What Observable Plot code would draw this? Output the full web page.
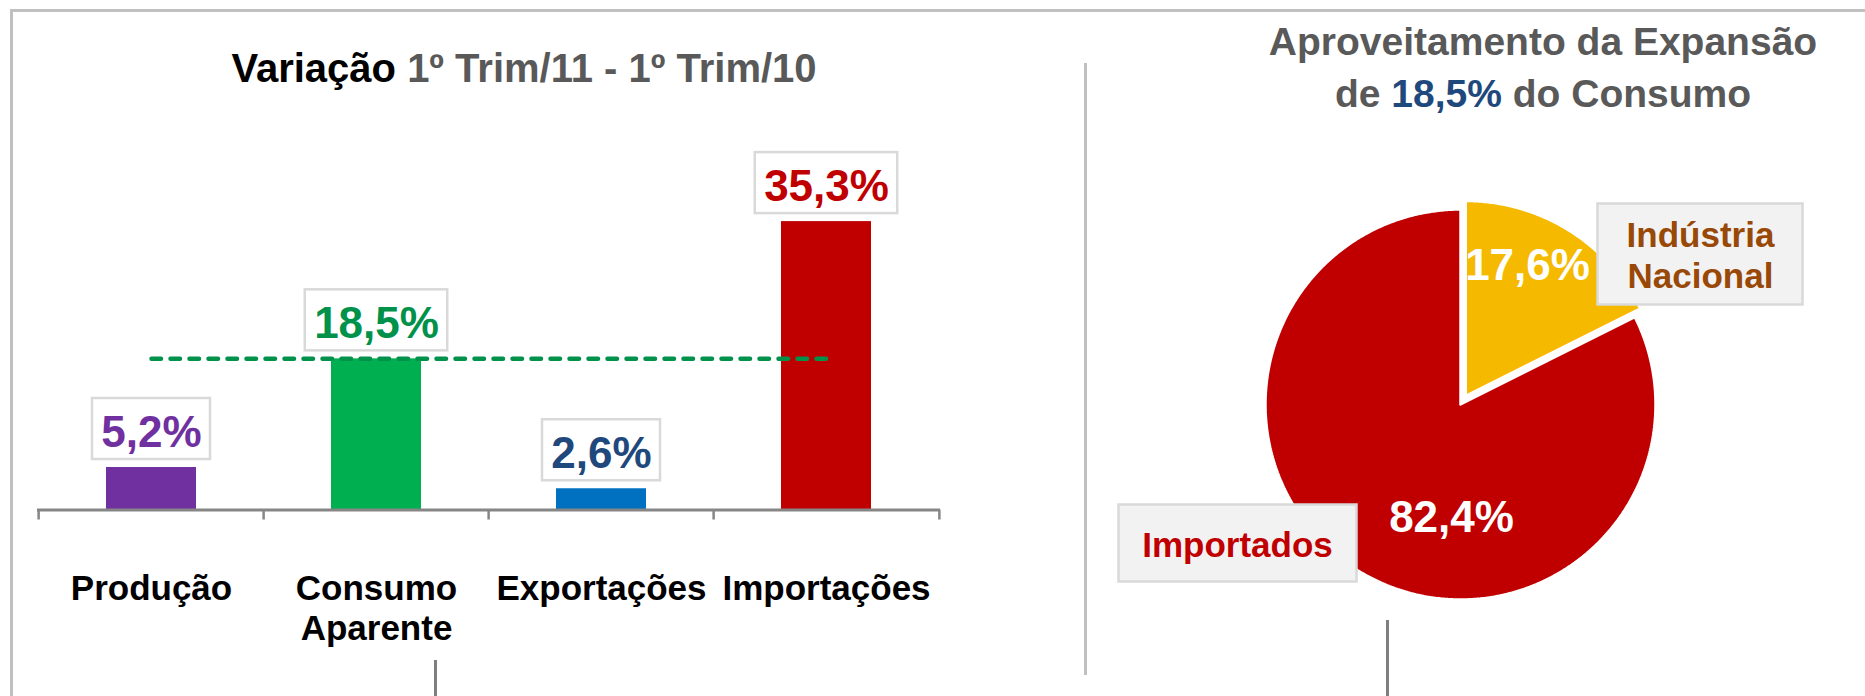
<!DOCTYPE html>
<html>
<head>
<meta charset="utf-8">
<script src="https://cdn.jsdelivr.net/npm/d3@7"></script>
<script src="https://cdn.jsdelivr.net/npm/@observablehq/plot@0.6"></script>
<style>
  html, body { margin: 0; padding: 0; background: #fff; }
  #wrap { position: relative; width: 1865px; height: 696px; overflow: hidden; background: #fff;
          font-family: "Liberation Sans", Arial, sans-serif; font-weight: bold; }
  .abs { position: absolute; }
  #wrap svg { position: absolute; left: 0; top: 0; }
  .title { font-size: 39px; text-align: center; white-space: nowrap; }
</style>
</head>
<body>
<div id="wrap">
  <div class="abs" style="left:10px;top:9px;width:2000px;height:1000px;border-top:3px solid #C0C0C0;border-left:3px solid #C0C0C0;"></div>
  <div class="abs" style="left:1084px;top:63px;width:3px;height:612px;background:#C0C0C0;"></div>
  <div class="abs" style="left:434px;top:660px;width:2.5px;height:40px;background:#7F7F7F;"></div>
  <div class="abs" style="left:1386px;top:620px;width:2.5px;height:80px;background:#7F7F7F;"></div>
  <div id="barTitle" class="abs title" style="left:24px;width:1000px;top:48px;line-height:1;font-size:40px;"></div>
  <div id="pieTitle" class="abs title" style="left:1043px;width:1000px;top:15.5px;line-height:52px;color:#595959;"></div>
</div>
<script>
// ---- data ----
const categories = ["Produção", "Consumo Aparente", "Exportações", "Importações"];
const categoryLabels = ["Produção", "Consumo\nAparente", "Exportações", "Importações"];
const variation = [5.2, 18.5, 2.6, 35.3];
const pieNames = ["Indústria Nacional", "Importados"];
const pieNameLabels = ["Indústria\nNacional", "Importados"];
const pieShares = [17.6, 82.4];
const barTitleStrong = "Variação";
const barTitleRest = "1º Trim/11 - 1º Trim/10";
const pieTitleLine1 = "Aproveitamento da Expansão";
const pieTitlePre = "de";
const pieTitlePost = "do Consumo";

// ---- styles ----
const barFill = ["#7030A0", "#00B050", "#0070C0", "#C00000"];
const barLabelColor = ["#7030A0", "#00914A", "#1F497D", "#C00000"];
const pieFill = ["#F5BA00", "#C00000"];
const pieNameColor = ["#984807", "#C00000"];
const FONT = "'Liberation Sans', Arial, sans-serif";

const fmt = v => v.toFixed(1).replace(".", ",") + "%";

// titles
document.getElementById("barTitle").innerHTML =
  `<span style="color:#000">${barTitleStrong}</span> <span style="color:#595959">${barTitleRest}</span>`;
document.getElementById("pieTitle").innerHTML =
  `${pieTitleLine1}<br>${pieTitlePre} <span style="color:#1F497D">${fmt(variation[1])}</span> ${pieTitlePost}`;

const W = 1865, H = 696;

// ---- bar chart ----
const axisLeft = 37, axisRight = 940, base = 509.5, pxPerPct = 8.17;
const step = (axisRight - axisLeft) / categories.length;
const bandwidth = step * 0.4;
const barData = categories.map((c, i) => ({
  cat: c, label: categoryLabels[i], value: variation[i], fill: barFill[i], color: barLabelColor[i]
}));

const ctx = document.createElement("canvas").getContext("2d");
ctx.font = "bold 44px 'Liberation Sans'";
const boxMarks = barData.map(d => {
  const w = ctx.measureText(fmt(d.value)).width + 18;
  const inset = (bandwidth - w) / 2;
  return Plot.barY([d], {
    x: "cat", y1: "value", y2: "value",
    fill: "white", stroke: "#D9D9D9", strokeWidth: 2.5,
    insetTop: -69, insetBottom: 8, insetLeft: inset, insetRight: inset
  });
});

const barPlot = Plot.plot({
  width: W, height: H,
  marginLeft: axisLeft, marginRight: W - axisRight, marginTop: 0, marginBottom: 0,
  style: {background: "transparent", fontFamily: FONT, overflow: "visible"},
  x: {domain: categories, paddingInner: 0.6, paddingOuter: 0.3, axis: null},
  y: {domain: [0, 40], range: [base, base - 40 * pxPerPct], axis: null},
  color: {type: "identity"},
  marks: [
    Plot.barY(barData, {x: "cat", y: "value", fill: "fill"}),
    Plot.line([barData[0], barData[3]], {
      x: "cat", y: () => variation[1],
      stroke: "#00914A", strokeWidth: 4.5, strokeDasharray: "9.5,9.5", strokeLinecap: "round"
    }),
    ...boxMarks,
    Plot.text(barData, {
      x: "cat", y: "value", text: d => fmt(d.value), fill: "color",
      fontSize: 44, fontWeight: "bold", lineAnchor: "bottom", dy: -21
    }),
    Plot.ruleY([0], {stroke: "#868686", strokeWidth: 3}),
    Plot.ruleX(categories, {x: d => d, y1: 0, y2: 0, dx: -step / 2, insetBottom: -10, stroke: "#868686", strokeWidth: 2.5}),
    Plot.ruleX([categories[categories.length - 1]], {x: d => d, y1: 0, y2: 0, dx: step / 2, insetBottom: -10, stroke: "#868686", strokeWidth: 2.5}),
    Plot.text(barData, {
      x: "cat", y: 0, text: "label", fill: "black",
      fontSize: 35, fontWeight: "bold", lineAnchor: "top", lineHeight: 40 / 35, dy: 62
    })
  ]
});

// ---- pie chart ----
const pieCx = 1460, pieCy = 404, R = 195;
const arcs = d3.pie().sort(null).value(d => d)(pieShares);
const explode = [10 / R, 0];
const slices = arcs.map((a, i) => {
  const mid = (a.startAngle + a.endAngle) / 2;
  const ox = explode[i] * Math.sin(mid), oy = explode[i] * Math.cos(mid);
  const n = Math.max(2, Math.ceil((a.endAngle - a.startAngle) / (Math.PI / 360)));
  const pts = [{x: ox, y: oy}];
  for (let k = 0; k <= n; k++) {
    const t = a.startAngle + (a.endAngle - a.startAngle) * k / n;
    pts.push({x: ox + Math.sin(t), y: oy + Math.cos(t)});
  }
  pts.push({x: ox, y: oy});
  return pts;
});
const pieLabelOffset = [[67, -125], [-9, 127]];

const piePlot = Plot.plot({
  width: W, height: H,
  margin: 0,
  style: {background: "transparent", fontFamily: FONT, overflow: "visible"},
  x: {domain: [-1, 1], range: [pieCx - R, pieCx + R], axis: null},
  y: {domain: [-1, 1], range: [pieCy + R, pieCy - R], axis: null},
  marks: [
    ...slices.map((pts, i) => Plot.line(pts, {
      x: "x", y: "y", fill: pieFill[i], stroke: "white", strokeWidth: 2.5, strokeLinejoin: "miter"
    })),
    ...pieShares.map((v, i) => Plot.text([v], {
      x: 0, y: 0, text: d => fmt(d), fill: "white", fontSize: 44, fontWeight: "bold",
      lineAnchor: "bottom", dx: pieLabelOffset[i][0], dy: pieLabelOffset[i][1]
    })),
    Plot.frame({fill: "#F2F2F2", stroke: "#D9D9D9", strokeWidth: 2.5,
      insetLeft: 1597, insetRight: W - 1802, insetTop: 203, insetBottom: H - 304}),
    Plot.frame({fill: "#F2F2F2", stroke: "#D9D9D9", strokeWidth: 2.5,
      insetLeft: 1118, insetRight: W - 1356, insetTop: 504, insetBottom: H - 581}),
    Plot.text([pieNameLabels[0]], {
      frameAnchor: "top-left", dx: 1700, dy: 287, text: d => d, fill: pieNameColor[0],
      fontSize: 35, fontWeight: "bold", lineAnchor: "bottom", lineHeight: 41 / 35, textAnchor: "middle"
    }),
    Plot.text([pieNameLabels[1]], {
      frameAnchor: "top-left", dx: 1237, dy: 556, text: d => d, fill: pieNameColor[1],
      fontSize: 35, fontWeight: "bold", lineAnchor: "bottom", textAnchor: "middle"
    })
  ]
});

const wrap = document.getElementById("wrap");
wrap.appendChild(barPlot);
wrap.appendChild(piePlot);
</script>
</body>
</html>
